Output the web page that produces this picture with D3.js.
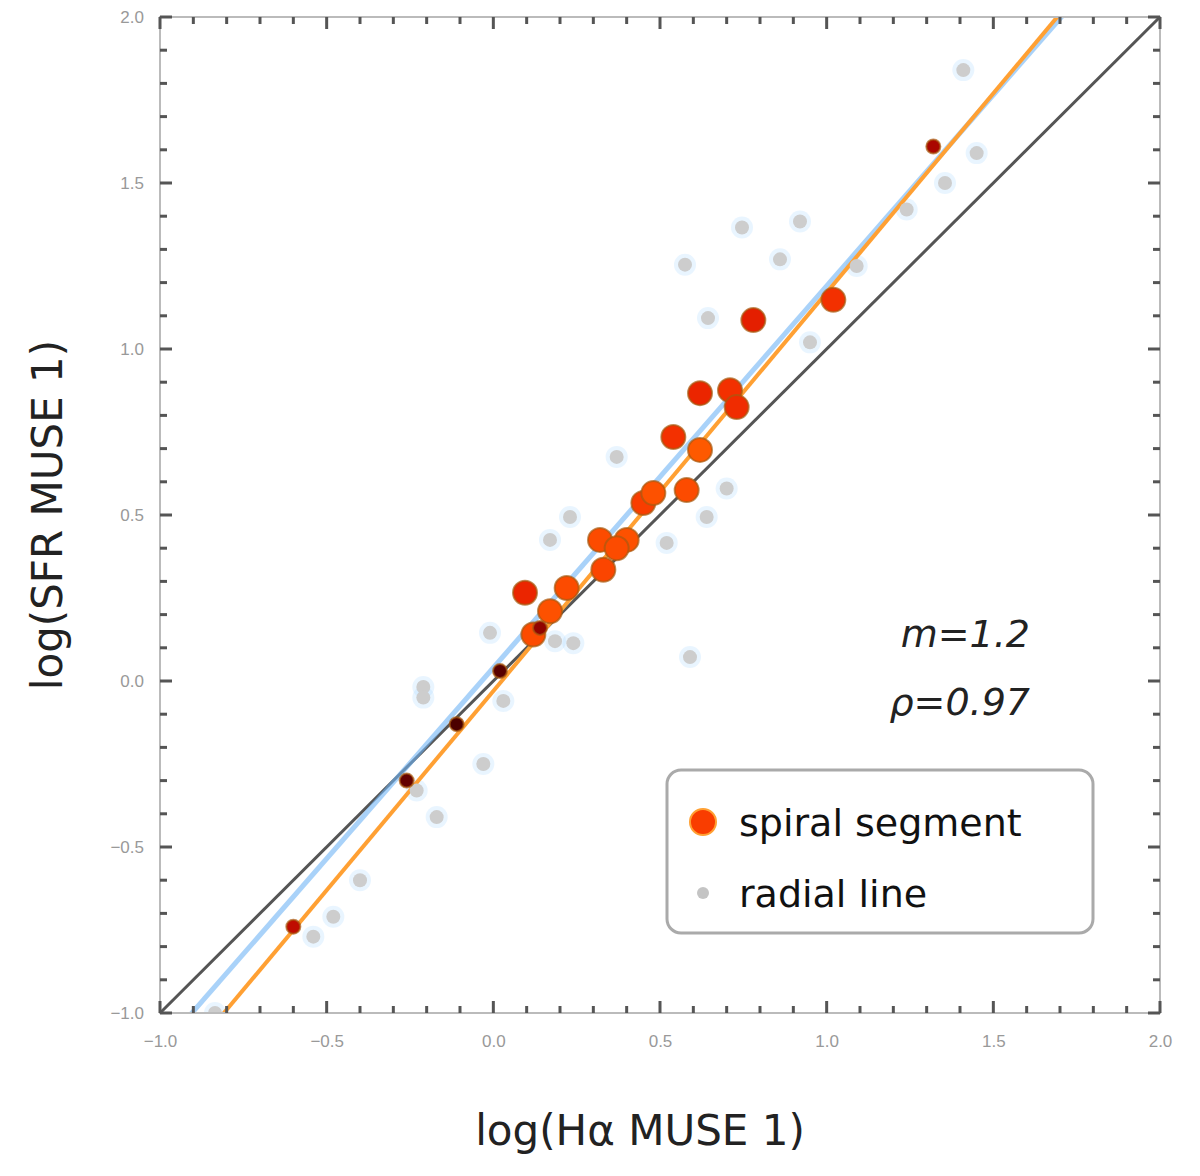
<!DOCTYPE html>
<html>
<head>
<meta charset="utf-8">
<script src="https://cdn.jsdelivr.net/npm/d3@7"></script>
<style>
  body { margin: 0; background: #fff; }
  svg { font-family: "DejaVu Sans", sans-serif; }
</style>
</head>
<body>
<div id="chart"></div>
<script>
const W = 1200, H = 1176;
const margin = { top: 17, left: 160, right: 40, bottom: 163 };
const width = W - margin.left - margin.right;
const height = H - margin.top - margin.bottom;

// axis ticks
const majorTicks = [-1.0, -0.5, 0.0, 0.5, 1.0, 1.5, 2.0];
const domain = [-1.0, 2.0];

// spiral segment points: [x, y, colour value]
const spiral = [
  [0.095, 0.266, 0.45], [0.17, 0.21, 0.62], [0.12, 0.14, 0.6],
  [0.32, 0.425, 0.6], [0.33, 0.335, 0.58], [0.40, 0.425, 0.62],
  [0.45, 0.536, 0.55], [0.48, 0.566, 0.62], [0.54, 0.735, 0.5],
  [0.62, 0.696, 0.65], [0.58, 0.575, 0.6], [0.62, 0.867, 0.45],
  [0.71, 0.876, 0.5], [0.73, 0.825, 0.48], [0.78, 1.087, 0.42],
  [1.02, 1.148, 0.5], [0.22, 0.28, 0.6], [0.37, 0.40, 0.6],
  [-0.26, -0.30, 0.12], [-0.11, -0.13, 0.08], [0.02, 0.03, 0.1],
  [-0.6, -0.74, 0.3], [1.32, 1.61, 0.25], [0.14, 0.16, 0.2]
];

// radial line points: [x, y]
const radial = [
  [0.575, 1.254], [0.746, 1.366], [0.92, 1.384], [0.86, 1.27],
  [0.644, 1.093], [1.41, 1.84], [1.45, 1.59], [1.355, 1.50],
  [1.24, 1.42], [1.09, 1.25], [0.37, 0.675], [0.23, 0.494],
  [0.17, 0.425], [0.64, 0.494], [0.52, 0.416], [0.59, 0.072],
  [-0.01, 0.145], [0.24, 0.114], [-0.21, -0.018], [-0.21, -0.05],
  [-0.03, -0.25], [-0.17, -0.41], [0.03, -0.06], [-0.4, -0.6],
  [-0.48, -0.71], [-0.54, -0.77], [-0.23, -0.33], [0.185, 0.12],
  [-0.835, -1.0], [0.7, 0.58], [0.95, 1.02]
];

// fit lines: [slope, intercept]
const oneToOne = [1.0, 0.0];
const spiralFit = [1.2, -0.03];
const radialFit = [1.15, 0.04];

const statLines = ["m=1.2", "ρ=0.97"];
const legendLabels = ["spiral segment", "radial line"];

const svg = d3.select("#chart").append("svg")
  .attr("width", W).attr("height", H);

const g = svg.append("g")
  .attr("transform", `translate(${margin.left},${margin.top})`);

const x = d3.scaleLinear().domain(domain).range([0, width]);
const y = d3.scaleLinear().domain(domain).range([height, 0]);

g.append("defs").append("clipPath").attr("id", "clip")
  .append("rect").attr("width", width).attr("height", height);

const plot = g.append("g").attr("clip-path", "url(#clip)");

function lineFor(p) {
  const xs = [domain[0] - 0.5, domain[1] + 0.5];
  return xs.map(v => [x(v), y(p[0] * v + p[1])]);
}

// radial halos
plot.selectAll("circle.halo").data(radial).enter().append("circle")
  .attr("cx", d => x(d[0])).attr("cy", d => y(d[1]))
  .attr("r", 11).attr("fill", "#a8d6ff").attr("opacity", 0.25);

plot.append("path").datum(lineFor(oneToOne))
  .attr("d", d3.line()).attr("stroke", "#555").attr("stroke-width", 3)
  .attr("fill", "none");

plot.append("path").datum(lineFor(radialFit))
  .attr("d", d3.line()).attr("stroke", "#6fb4f5").attr("stroke-width", 5)
  .attr("opacity", 0.6).attr("fill", "none");

plot.append("path").datum(lineFor(spiralFit))
  .attr("d", d3.line()).attr("stroke", "#ffa033").attr("stroke-width", 4)
  .attr("fill", "none");

plot.selectAll("circle.radial").data(radial).enter().append("circle")
  .attr("cx", d => x(d[0])).attr("cy", d => y(d[1]))
  .attr("r", 7).attr("fill", "#cdcdcd");

const heat = d3.scaleSequential(
  d3.interpolateRgbBasis(["#1a0000", "#b80000", "#ff2a00", "#ff7a00", "#ffb000"])
).domain([0, 1]);

plot.selectAll("circle.spiral").data(spiral).enter().append("circle")
  .attr("cx", d => x(d[0])).attr("cy", d => y(d[1]))
  .attr("r", d => d[2] < 0.35 ? 7 : 12)
  .attr("fill", d => heat(d[2]))
  .attr("stroke", "#a85a10").attr("stroke-width", 2).attr("stroke-opacity", 0.7);

// frame
g.append("rect").attr("width", width).attr("height", height)
  .attr("fill", "none").attr("stroke", "#bbb").attr("stroke-width", 2);

// ticks on all sides
const minor = d3.range(-10, 21).map(i => i / 10);
function tickLen(v) { return Math.abs(v * 2 - Math.round(v * 2)) < 1e-6 ? 12 : 7; }
const tk = g.append("g").attr("stroke", "#555").attr("stroke-width", 3);
minor.forEach(v => {
  const L = tickLen(v);
  tk.append("line").attr("x1", x(v)).attr("x2", x(v)).attr("y1", height).attr("y2", height - L);
  tk.append("line").attr("x1", x(v)).attr("x2", x(v)).attr("y1", 0).attr("y2", L);
  tk.append("line").attr("y1", y(v)).attr("y2", y(v)).attr("x1", 0).attr("x2", L);
  tk.append("line").attr("y1", y(v)).attr("y2", y(v)).attr("x1", width).attr("x2", width - L);
});

// tick labels via axes
const fmt = d3.format(".1f");
const xAxis = d3.axisBottom(x).tickValues(majorTicks).tickFormat(d => fmt(d).replace("-", "−"))
  .tickSize(0).tickPadding(22);
const yAxis = d3.axisLeft(y).tickValues(majorTicks).tickFormat(d => fmt(d).replace("-", "−"))
  .tickSize(0).tickPadding(16);

g.append("g").attr("transform", `translate(0,${height})`).call(xAxis)
  .call(s => s.select(".domain").remove())
  .selectAll("text").attr("font-size", 17).attr("fill", "#999");
g.append("g").call(yAxis)
  .call(s => s.select(".domain").remove())
  .selectAll("text").attr("font-size", 17).attr("fill", "#999");

// axis titles
svg.append("text").attr("x", margin.left + width / 2 - 20).attr("y", 1145)
  .attr("text-anchor", "middle").attr("font-size", 42).attr("fill", "#222")
  .text("log(Hα MUSE 1)");
svg.append("text").attr("transform", "translate(62,515) rotate(-90)")
  .attr("text-anchor", "middle").attr("font-size", 42).attr("fill", "#222")
  .text("log(SFR MUSE 1)");

// stats text
statLines.forEach((t, i) => {
  g.append("text").attr("x", 870).attr("y", 630 + i * 68)
    .attr("text-anchor", "end").attr("font-size", 38).attr("fill", "#222")
    .attr("font-style", "italic").text(t);
});

// legend
const lg = g.append("g").attr("transform", "translate(507,753)");
lg.append("rect").attr("width", 426).attr("height", 163).attr("rx", 14)
  .attr("fill", "#fff").attr("stroke", "#aaa").attr("stroke-width", 3);
lg.append("circle").attr("cx", 36).attr("cy", 52).attr("r", 13)
  .attr("fill", heat(0.55)).attr("stroke", "#ffa033").attr("stroke-width", 2);
lg.append("circle").attr("cx", 36).attr("cy", 123).attr("r", 6).attr("fill", "#c4c4c4");
legendLabels.forEach((t, i) => {
  lg.append("text").attr("x", 72).attr("y", 66 + i * 71)
    .attr("font-size", 38).attr("fill", "#111").text(t);
});
</script>
</body>
</html>
